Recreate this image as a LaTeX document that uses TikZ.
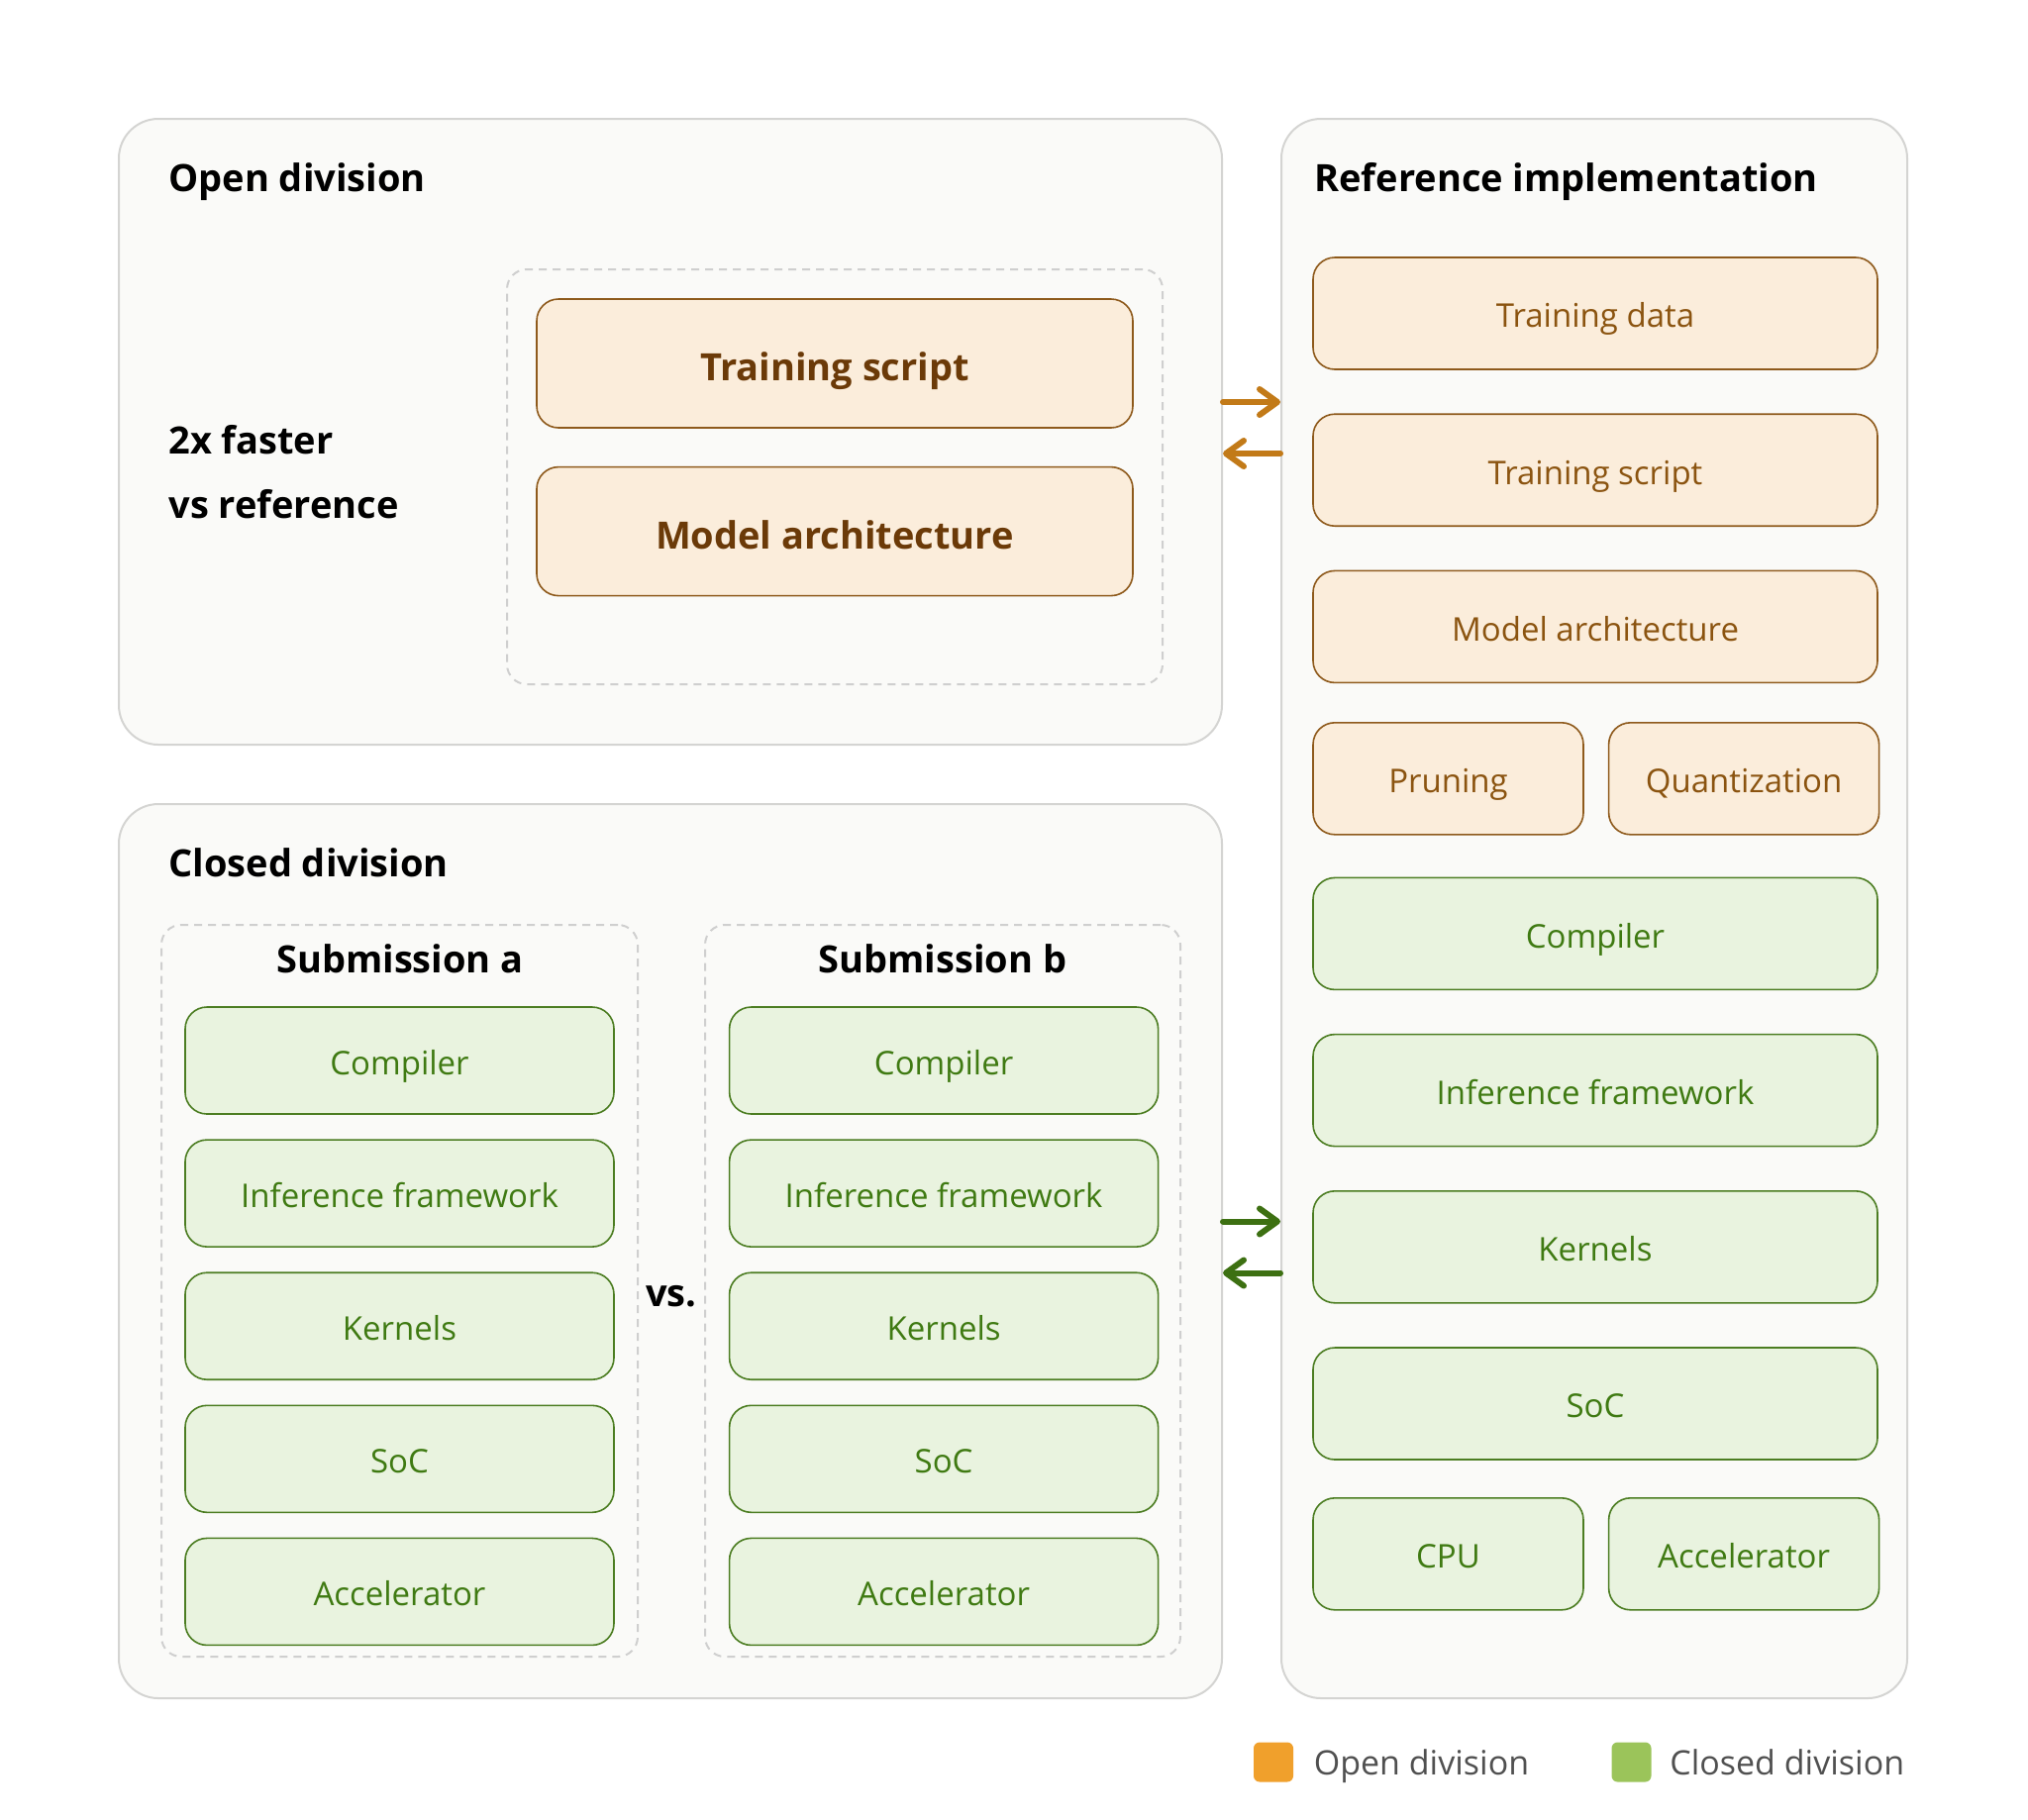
\documentclass[tikz,border=0pt]{standalone}
\usepackage{fontspec}
\setmainfont{Open Sans}
\usetikzlibrary{arrows.meta,positioning}

\definecolor{panelfill}{HTML}{FAFAF8}
\definecolor{panelline}{HTML}{D4D4D2}
\definecolor{dashline}{HTML}{CFCFCF}
\definecolor{openfill}{HTML}{FBEDDB}
\definecolor{openline}{HTML}{8E5A1C}
\definecolor{opentext}{HTML}{8B5410}
\definecolor{openbold}{HTML}{6B3A08}
\definecolor{closedfill}{HTML}{E9F3DF}
\definecolor{closedline}{HTML}{4C7D22}
\definecolor{closedtext}{HTML}{3F7A12}
\definecolor{openarrow}{HTML}{C27A18}
\definecolor{closedarrow}{HTML}{3D7012}
\definecolor{legorange}{HTML}{F0A02C}
\definecolor{leggreen}{HTML}{9BC45A}
\definecolor{legtext}{HTML}{505050}

\begin{document}
\begin{tikzpicture}[
    x=0.5pt, y=-0.5pt,
    panel/.style={rectangle, draw=panelline, fill=panelfill, line width=1pt, rounded corners=20pt},
    dashbox/.style={rectangle, draw=dashline, dash pattern=on 4pt off 3pt, line width=1pt, rounded corners=10pt},
    title/.style={inner sep=0pt, text depth=0pt, font=\fontsize{19}{23}\selectfont\bfseries},
    openbox/.style={rectangle, rounded corners=11pt, draw=openline, fill=openfill, line width=0.8pt, text=opentext, font=\fontsize{16.5}{20}\selectfont, text height=15pt, text depth=0.6pt, minimum width=285pt, minimum height=56.5pt},
    bigbox/.style={openbox, text=openbold, font=\fontsize{19}{23}\selectfont\bfseries, text height=18pt, text depth=0.4pt, minimum width=301pt, minimum height=65pt},
    closedbox/.style={rectangle, rounded corners=11pt, draw=closedline, fill=closedfill, line width=0.8pt, text=closedtext, font=\fontsize{16.5}{20}\selectfont, text height=15pt, text depth=0.6pt, minimum width=285pt, minimum height=56.5pt},
    subbox/.style={closedbox, minimum width=216.5pt, minimum height=54pt},
    legsq/.style={rectangle, rounded corners=3pt, minimum size=20pt, inner sep=0pt},
    legend/.style={anchor=west, inner sep=0pt, text depth=0pt, text=legtext, font=\fontsize{17}{20}\selectfont},
    arrow/.style={-{Straight Barb[length=9pt,width=13pt,round]}, line width=3pt, line cap=round}
]
    \useasboundingbox (0,0) rectangle (2048,1837);

    % panels
    \node[panel, minimum width=557pt, minimum height=316pt] (openp) at (677,436) {};
    \node[panel, minimum width=557pt, minimum height=451.5pt] (closedp) at (677,1263.5) {};
    \node[panel, minimum width=316pt, minimum height=797.5pt] (refp) at (1610,917.5) {};

    \node[title, anchor=west] (opentitle) at (170,179) {Open division};
    \node[title, anchor=west] (closedtitle) at (170,871) {Closed division};
    \node[title, anchor=west] (reftitle) at (1327,179) {Reference implementation};

    % open division
    \node[dashbox, minimum width=331pt, minimum height=209.5pt] (opendash) at (843,481.5) {};
    \node[bigbox] (opscript) at (843,367) {Training script};
    \node[bigbox, below=19pt of opscript] (oparch) {Model architecture};
    \node[title, anchor=west, align=left, font=\fontsize{19}{32.5}\selectfont\bfseries] (speedup) at (170,476) {2x faster\\vs reference};

    % closed division
    \node[dashbox, minimum width=240.5pt, minimum height=369.5pt] (subadash) at (403.5,1303.5) {};
    \node[dashbox, minimum width=240pt, minimum height=369.5pt] (subbdash) at (952,1303.5) {};
    \node[title] (subatitle) at (404,968) {Submission a};
    \node[title] (subbtitle) at (952,968) {Submission b};
    \node[title] (versus) at (678,1309) {vs.};

    \node[subbox] (subacomp) at (403.5,1071) {Compiler};
    \node[subbox, below=12.25pt of subacomp] (subainf) {Inference framework};
    \node[subbox, below=12.25pt of subainf] (subaker) {Kernels};
    \node[subbox, below=12.25pt of subaker] (subasoc) {SoC};
    \node[subbox, below=12.25pt of subasoc] (subaacc) {Accelerator};

    \node[subbox, right=57.5pt of subacomp] (subbcomp) {Compiler};
    \node[subbox, below=12.25pt of subbcomp] (subbinf) {Inference framework};
    \node[subbox, below=12.25pt of subbinf] (subbker) {Kernels};
    \node[subbox, below=12.25pt of subbker] (subbsoc) {SoC};
    \node[subbox, below=12.25pt of subbsoc] (subbacc) {Accelerator};

    % reference implementation
    \node[openbox] (reftrain) at (1611,316.5) {Training data};
    \node[openbox, below=21.8pt of reftrain] (refscript) {Training script};
    \node[openbox, below=21.8pt of refscript] (refarch) {Model architecture};
    \node[openbox, minimum width=136.5pt] (refprune) at (1462.5,786.3) {Pruning};
    \node[openbox, minimum width=136.5pt, right=12pt of refprune] (refquant) {Quantization};
    \node[closedbox] (refcomp) at (1611,942.9) {Compiler};
    \node[closedbox, below=21.8pt of refcomp] (refinf) {Inference framework};
    \node[closedbox, below=21.8pt of refinf] (refker) {Kernels};
    \node[closedbox, below=21.8pt of refker] (refsoc) {SoC};
    \node[closedbox, minimum width=136.5pt] (refcpu) at (1462.5,1569.3) {CPU};
    \node[closedbox, minimum width=136.5pt, right=12pt of refcpu] (refacc) {Accelerator};

    % arrows between panels
    \coordinate (oa1) at ([yshift=15pt]openp.east);
    \coordinate (oa2) at ([yshift=-11pt]openp.east);
    \coordinate (ca1) at ([yshift=15pt]closedp.east);
    \coordinate (ca2) at ([yshift=-11pt]closedp.east);
    \draw[arrow, openarrow] (oa1) -- (oa1 -| refp.west);
    \draw[arrow, openarrow] (oa2 -| refp.west) -- (oa2);
    \draw[arrow, closedarrow] (ca1) -- (ca1 -| refp.west);
    \draw[arrow, closedarrow] (ca2 -| refp.west) -- (ca2);

    % legend
    \node[legsq, fill=legorange] (legopen) at (1286,1779.5) {};
    \node[legend, right=10pt of legopen] (legopentext) {Open division};
    \node[legsq, fill=leggreen] (legclosed) at (1647.5,1779.5) {};
    \node[legend, right=9pt of legclosed] (legclosedtext) {Closed division};
\end{tikzpicture}
\end{document}
